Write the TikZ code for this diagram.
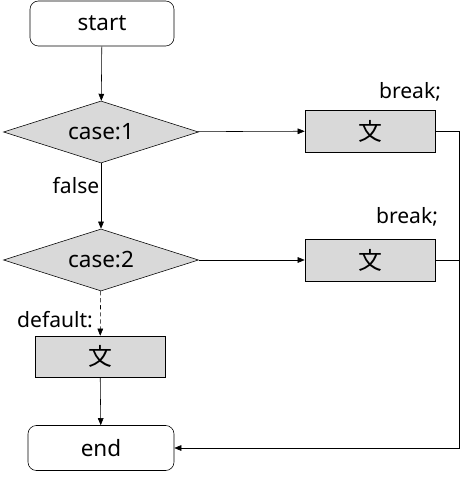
\documentclass[tikz,border=0pt]{standalone}
\usepackage{fontspec}
\setmainfont{Noto Sans}
\newfontfamily\cjk{Noto Sans CJK JP}
\usetikzlibrary{shapes.geometric,arrows.meta}
\begin{document}
\begin{tikzpicture}[x=0.025cm, y=-0.025cm, >={Triangle[length=5pt,width=4pt]}, font=\fontsize{16}{18}\selectfont]
\useasboundingbox (0,0) rectangle (468,477);
\node[draw, rounded corners=6pt, minimum width=3.6cm, minimum height=1.125cm] (s) at (102,23.5) {start};
\node[draw, diamond, fill=gray!30, aspect=3.1, inner sep=0pt, minimum width=4.875cm, minimum height=1.55cm] (c1) at (101,132) {case:1};
\node[draw, rectangle, fill=gray!30, minimum width=3.25cm, minimum height=1.05cm, font=\cjk\fontsize{17}{19}\selectfont] (b1) at (370,131) {文};
\node[draw, diamond, fill=gray!30, aspect=3.1, inner sep=0pt, minimum width=4.875cm, minimum height=1.55cm] (c2) at (101,260) {case:2};
\node[draw, rectangle, fill=gray!30, minimum width=3.25cm, minimum height=1.05cm, font=\cjk\fontsize{17}{19}\selectfont] (b2) at (370,260) {文};
\node[draw, rectangle, fill=gray!30, minimum width=3.25cm, minimum height=1.025cm, font=\cjk\fontsize{17}{19}\selectfont] (d) at (100,356.5) {文};
\node[draw, rounded corners=6pt, minimum width=3.65cm, minimum height=1.125cm] (e) at (101,448) {end};
\node[font=\fontsize{15}{17}\selectfont] (l1) at (410,92) {break;};
\node[font=\fontsize{15}{17}\selectfont] (l2) at (407,217) {break;};
\node[font=\fontsize{15}{17}\selectfont] (f) at (76,186) {false};
\node[font=\fontsize{15}{17}\selectfont] (df) at (55,320) {default:};
\coordinate (bus) at (459,131);
\draw[->] (s) -- (c1);
\draw[->] (c1) -- (b1);
\draw[->] (c1) -- (c2);
\draw[->] (c2) -- (b2);
\draw[->, densely dashed] (c2) -- (d);
\draw[->] (d) -- (e);
\draw[->] (b1.east) -- (bus) |- (e.east);
\draw (b2.east) -- (b2.east -| bus);
\end{tikzpicture}
\end{document}
